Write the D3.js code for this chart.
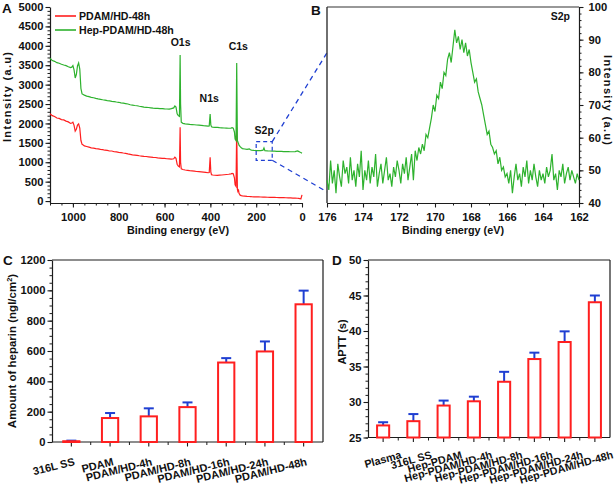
<!DOCTYPE html>
<html><head><meta charset="utf-8">
<script src="https://cdn.jsdelivr.net/npm/d3@7"></script>
<style>
body{margin:0;background:#fff;}
svg text{font-family:"Liberation Sans",Arial,sans-serif;font-weight:bold;fill:#111;}
</style></head><body>
<svg id="c" width="616" height="489"></svg>
<script>
// ---------------- DATA ----------------
// Panel A: survey spectra
const energyA = [1100,1090,1080,1070,1060,1050,1040,1030,1020,1010,
 1005,1000,995,990,985,980,975,970,965,960,
 955,950,940,930,920,910,900,890,880,870,
 860,850,840,830,820,810,800,790,780,770,
 760,750,740,730,720,710,700,690,680,670,
 660,650,640,630,620,610,600,590,580,570,
 560,555,550,545,540,535,532,530,527,520,
 510,500,490,480,470,460,450,440,430,420,
 410,405,401,398,395,390,380,370,360,350,
 340,330,320,310,305,300,295,292,288,285,
 282,280,277,275,270,265,260,250,240,230,
 225,220,210,200,190,180,170,166,162,150,
 140,130,120,110,100,90,80,70,60,50,
 40,30,20,15,10,5,0];
const pdamA = [2250,2200,2180,2140,2130,2100,2090,2060,2040,2000,
 2010,2030,1950,1800,1850,1960,1990,1880,1560,1460,
 1445,1420,1405,1390,1370,1365,1350,1345,1330,1325,
 1310,1305,1290,1290,1270,1268,1255,1250,1238,1230,
 1215,1205,1192,1185,1178,1168,1160,1152,1148,1140,
 1132,1125,1122,1112,1108,1100,1098,1090,1088,1080,
 1090,1130,1100,950,900,880,1900,1000,830,812,
 800,792,782,776,770,762,756,750,745,738,
 730,735,1130,750,680,672,665,662,668,672,
 678,684,690,700,712,702,600,420,380,1900,
 300,250,280,200,152,140,132,126,121,118,
 116,113,110,108,106,104,102,101,100,98,
 97,95,94,92,90,88,86,85,83,80,
 78,75,72,70,65,55,160];
const hepA = [3680,3620,3600,3565,3550,3525,3505,3490,3460,3440,
 3450,3490,3380,3170,3260,3480,3560,3400,2900,2760,
 2745,2730,2705,2690,2672,2662,2645,2632,2622,2610,
 2602,2590,2582,2570,2562,2552,2545,2532,2522,2512,
 2500,2482,2472,2462,2455,2442,2432,2422,2416,2410,
 2402,2395,2390,2386,2380,2382,2375,2372,2370,2380,
 2400,2450,2420,2250,2200,2180,3760,2500,2030,2002,
 1990,1982,1975,1970,1966,1960,1955,1950,1942,1936,
 1930,1936,2240,1960,1912,1905,1900,1896,1890,1886,
 1882,1880,1876,1880,1892,1880,1780,1600,1560,3560,
 1560,1520,1480,1440,1400,1372,1352,1342,1332,1345,
 1322,1312,1306,1302,1300,1300,1310,1370,1300,1292,
 1290,1286,1285,1282,1280,1280,1276,1275,1272,1270,
 1270,1276,1292,1280,1262,1250,1232];
const seriesNamesA = ["PDAM/HD-48h","Hep-PDAM/HD-48h"];
const peakLabelsA = [{t:"O1s",e:530,v:4000},{t:"C1s",e:278,v:3900},{t:"N1s",e:405,v:2550},{t:"S2p",e:165,v:1740}];
const zoomBoxA = {e0:200,e1:130,v0:1050,v1:1530};
const xTicksA = [1000,800,600,400,200,0];
const yTicksA = [0,500,1000,1500,2000,2500,3000,3500,4000,4500,5000];

// Panel B: S2p high-resolution spectrum (176 -> 162 eV, 0.1 eV sampling)
const energyBStart = 176, energyBStep = 0.1;
const s2pB = [47,44,53,46,50,43,52,48,45,53,49,51,46,54,47,50,45,52,48,56,44,50,47,53,46,51,48,55,45,49,52,46,50,54,47,49,45,51,48,53,50,46,52,49,54,47,51,55,
 47,56,53,57,55,
 58,56,61,60,63,
 66,70,68,73,72,
 77,75,80,79,84,
 86,83,88,93,89,
 91,87,90,86,89,
 85,87,83,80,77,
 78,74,72,70,67,
 64,61,62,58,57,
 55,56,52,54,50,
 51,48,49,46,50,43,48,52,47,49,45,51,48,53,46,50,47,52,48,45,50,47,49,46,51,48,50,55,47,49,44,50,48,52,46,49,51,47,50,48,46,49,47];
const xTicksB = [176,174,172,170,168,166,164,162];
const yTicksB = [40,50,60,70,80,90,100];

// Panel C: heparin amount
const catsC = ["316L SS","PDAM","PDAM/HD-4h","PDAM/HD-8h","PDAM/HD-16h","PDAM/HD-24h","PDAM/HD-48h"];
const valsC = [5,158,169,230,524,597,908];
const errC  = [4,33,53,31,29,66,90];
const yTicksC = [0,200,400,600,800,1000,1200];

// Panel D: APTT
const catsD = ["Plasma","316L SS","Hep-PDAM","Hep-PDAM/HD-4h","Hep-PDAM/HD-8h","Hep-PDAM/HD-16h","Hep-PDAM/HD-24h","Hep-PDAM/HD-48h"];
const valsD = [26.7,27.3,29.5,30.1,32.85,36.05,38.45,44.05];
const errD  = [0.45,1.0,0.7,0.65,1.4,0.9,1.5,0.95];
const yTicksD = [25,30,35,40,45,50];

// ---------------- DRAW ----------------
const svg = d3.select("#c");
const INK = "#1c1c1c", RED = "#ff1f1f", GREEN = "#2eb22e", BLUE = "#1f3fd2";
const fmt = d3.format("d");
const TICKFS = 11.2;

function style(g, fs){
  g.attr("font-family", null).attr("font-size", null);
  g.selectAll("path.domain").attr("stroke", INK).attr("stroke-width", 1.2);
  g.selectAll(".tick line").attr("stroke", INK).attr("stroke-width", 1.1);
  g.selectAll(".tick text").attr("font-size", fs || TICKFS);
  return g;
}
function minor(g){ g.select("path.domain").remove(); g.selectAll(".tick line").attr("stroke",INK).attr("stroke-width",1); }
function line(x1,y1,x2,y2,c,w,dash){
  const l = svg.append("line").attr("x1",x1).attr("y1",y1).attr("x2",x2).attr("y2",y2)
    .attr("stroke",c||INK).attr("stroke-width",w||1.2);
  if(dash) l.attr("stroke-dasharray",dash);
  return l;
}
function text(x,y,t,fs,anchor){
  return svg.append("text").attr("x",x).attr("y",y).attr("font-size",fs).attr("text-anchor",anchor||"start").text(t);
}

// ===== Panel A =====
const xA = d3.scaleLinear().domain([1100,0]).range([50,302]);
const yA = d3.scaleLinear().domain([-50,5000]).range([203,7]);
svg.append("g").attr("transform","translate(0,203)")
  .call(d3.axisBottom(xA).tickValues(d3.range(1100,-1,-50)).tickSize(2.5).tickFormat(()=>"")).call(minor);
svg.append("g").attr("transform","translate(50,0)")
  .call(d3.axisLeft(yA).tickValues(d3.range(0,5001,100)).tickSize(2.5).tickFormat(()=>"")).call(minor);
style(svg.append("g").attr("transform","translate(0,203)")
  .call(d3.axisBottom(xA).tickValues(xTicksA).tickFormat(fmt).tickSize(4.5).tickSizeOuter(0).tickPadding(6)));
style(svg.append("g").attr("transform","translate(50,0)")
  .call(d3.axisLeft(yA).tickValues(yTicksA).tickFormat(fmt).tickSize(4.5).tickSizeOuter(0).tickPadding(2)));

const lineA = d3.line().x((d,i)=>xA(energyA[i])).y(d=>yA(d));
svg.append("path").datum(pdamA).attr("d",lineA).attr("fill","none").attr("stroke",RED).attr("stroke-width",1.2);
svg.append("path").datum(hepA).attr("d",lineA).attr("fill","none").attr("stroke",GREEN).attr("stroke-width",1.2);

// legend
[[RED,16],[GREEN,30]].forEach((c,i)=>{
  line(55,c[1],76,c[1],c[0],1.6);
  text(79,c[1]+3.8,seriesNamesA[i],10.6);
});
peakLabelsA.forEach(p=>text(xA(p.e),yA(p.v),p.t,10.5,"middle"));

// zoom box + connectors
svg.append("rect").attr("x",xA(zoomBoxA.e0)).attr("y",yA(zoomBoxA.v1))
  .attr("width",xA(zoomBoxA.e1)-xA(zoomBoxA.e0)).attr("height",yA(zoomBoxA.v0)-yA(zoomBoxA.v1))
  .attr("fill","none").attr("stroke",BLUE).attr("stroke-width",1.2).attr("stroke-dasharray","4,3");

// ===== Panel B =====
const xB = d3.scaleLinear().domain([176,162]).range([327,579]);
const yB = d3.scaleLinear().domain([40,100]).range([203,7]);
line(xA(zoomBoxA.e1),yA(zoomBoxA.v1),xB(176),yB(86),BLUE,1.3,"5,4");
line(xA(zoomBoxA.e1),yA(zoomBoxA.v0),xB(176),yB(43.4),BLUE,1.3,"5,4");

svg.append("g").attr("transform","translate(0,203)")
  .call(d3.axisBottom(xB).tickValues(d3.range(176,161.5,-1)).tickSize(2.5).tickFormat(()=>"")).call(minor);
svg.append("g").attr("transform","translate(579,0)")
  .call(d3.axisRight(yB).tickValues(d3.range(40,100.5,2)).tickSize(2.5).tickFormat(()=>"")).call(minor);
style(svg.append("g").attr("transform","translate(0,203)")
  .call(d3.axisBottom(xB).tickValues(xTicksB).tickFormat(fmt).tickSize(4.5).tickSizeOuter(0).tickPadding(6)));
style(svg.append("g").attr("transform","translate(579,0)")
  .call(d3.axisRight(yB).tickValues(yTicksB).tickFormat(fmt).tickSize(4.5).tickSizeOuter(0).tickPadding(5)));
line(327,7,579,7,"#333",1.2);
line(327,7,327,203,"#333",1.4);

const lineB = d3.line().x((d,i)=>xB(energyBStart - i*energyBStep)).y(d=>yB(d));
svg.append("path").datum(s2pB).attr("d",lineB).attr("fill","none").attr("stroke",GREEN).attr("stroke-width",1.2);
text(570,20,"S2p",10.5,"end");

// axis titles A/B
text((50+302)/2+2,234,"Binding energy (eV)",10.8,"middle");
text((327+579)/2,234,"Binding energy (eV)",10.8,"middle");
svg.append("text").attr("transform","translate(11,97) rotate(-90)").attr("text-anchor","middle")
  .attr("font-size",11).attr("textLength",90).attr("lengthAdjust","spacing").text("Intensity (a.u)");
svg.append("text").attr("transform","translate(604,100) rotate(90)").attr("text-anchor","middle")
  .attr("font-size",11).attr("textLength",90).attr("lengthAdjust","spacing").text("Intensity (a.u)");
text(2,13,"A",13.5);
text(311,15,"B",13.5);

// ===== Bar panels =====
function barPanel(cats, vals, errs, x0, x1, y0, y1, domain, ticks, minorStep, barPad, capW, lblDx, lblY, lblRot, fs){
  const x = d3.scaleBand().domain(cats).range([x0,x1]).paddingInner(barPad).paddingOuter(barPad/2);
  const y = d3.scaleLinear().domain(domain).range([y0,y1]);
  svg.append("g").attr("transform",`translate(${x0},0)`)
    .call(d3.axisLeft(y).tickValues(d3.range(domain[0],domain[1]+minorStep/2,minorStep)).tickSize(2.5).tickFormat(()=>"")).call(minor);
  style(svg.append("g").attr("transform",`translate(${x0},0)`)
    .call(d3.axisLeft(y).tickValues(ticks).tickFormat(fmt).tickSize(4.5).tickSizeOuter(0).tickPadding(2)));
  const step = x.step();
  const centres = cats.map(c=>x(c)+x.bandwidth()/2);
  line(x0,y0,x1,y0,INK,1.2);
  centres.forEach(cx=>line(cx,y0,cx,y0+4.5,INK,1.1));
  centres.slice(1).forEach(cx=>line(cx-step/2,y0,cx-step/2,y0+3,INK,1));
  line(x0,y1,x1,y1,INK,1.2);
  line(x1,y1,x1,y0,INK,1.2);
  cats.forEach((c,i)=>{
    const bx = x(c), bw = x.bandwidth(), cx = centres[i];
    svg.append("line").attr("x1",cx).attr("x2",cx).attr("y1",y(vals[i])).attr("y2",y(vals[i]+errs[i]))
      .attr("stroke",BLUE).attr("stroke-width",2);
    svg.append("line").attr("x1",cx-capW/2).attr("x2",cx+capW/2).attr("y1",y(vals[i]+errs[i])).attr("y2",y(vals[i]+errs[i]))
      .attr("stroke",BLUE).attr("stroke-width",2);
    svg.append("rect").attr("x",bx).attr("y",y(vals[i])).attr("width",bw).attr("height",y0-y(vals[i]))
      .attr("fill","#fff").attr("fill-opacity",0).attr("stroke",RED).attr("stroke-width",2);
    svg.append("text").attr("transform",`translate(${cx+lblDx},${lblY}) rotate(${lblRot})`)
      .attr("text-anchor","end").attr("font-size",fs).text(c);
  });
  return {x,y};
}
barPanel(catsC, valsC, errC, 52, 323, 442, 260, [0,1200], yTicksC, 50, 0.58, 10, 4, 465, -14, 11);
barPanel(catsD, valsD, errD, 368, 610, 437.5, 260, [25,50], yTicksD, 1, 0.6, 10, 19, 458, -15.5, 10.8);

// titles C/D
const tC = svg.append("text").attr("transform","translate(16,351) rotate(-90)").attr("text-anchor","middle").attr("font-size",11.5);
tC.append("tspan").text("Amount of heparin (ngl/cm");
tC.append("tspan").attr("font-size",7.5).attr("dy",-4).text("2");
tC.append("tspan").attr("dy",4).text(")");
svg.append("text").attr("transform","translate(346,342) rotate(-90)").attr("text-anchor","middle").attr("font-size",11).text("APTT (s)");
text(3,265,"C",13.5);
text(332,265,"D",13.5);
</script>
</body></html>
